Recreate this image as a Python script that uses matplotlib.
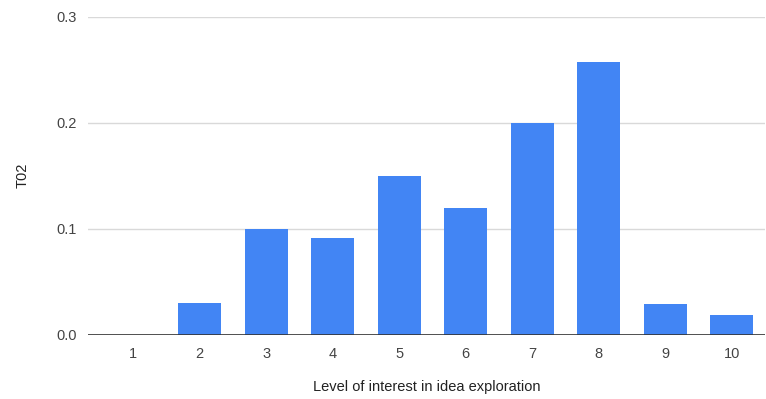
import matplotlib.pyplot as plt

levels = ['1', '2', '3', '4', '5', '6', '7', '8', '9', '10']
t02 = [0.0, 0.03, 0.1, 0.091, 0.15, 0.12, 0.2, 0.257, 0.029, 0.019]

plt.rcParams['font.family'] = ['Liberation Sans', 'DejaVu Sans']

fig = plt.figure(figsize=(7.66, 3.99), dpi=100)
ax = fig.add_axes([88 / 766, 1 - 335 / 399, 677 / 766, (335 - 16.5) / 399])

x = list(range(1, len(levels) + 1))
ax.bar(x, t02, width=0.65, color='#4285F4', zorder=3)

ax.set_ylim(0, 0.3)
ax.set_xlim(0.32, 10.5)
ax.set_yticks([0.0, 0.1, 0.2, 0.3])
ax.set_yticklabels(['0.0', '0.1', '0.2', '0.3'])
ax.set_xticks(x)
ax.set_xticklabels(levels)

ax.grid(axis='y', color='#d9d9d9', linewidth=1, zorder=0)
ax.axhline(0, color='#333333', linewidth=1.2, zorder=4)
for s in ax.spines.values():
    s.set_visible(False)
ax.tick_params(length=0, labelsize=10.5, colors='#444444')
ax.tick_params(axis='y', pad=8)
ax.tick_params(axis='x', pad=9)

ax.set_xlabel('Level of interest in idea exploration', fontsize=10.5, color='#222222', labelpad=13)
ax.set_ylabel('T02', fontsize=10.5, color='#222222', labelpad=19)

fig.savefig('out.png', dpi=100)
